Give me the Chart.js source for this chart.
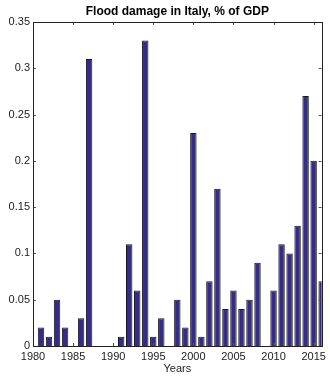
<!DOCTYPE html>
<html>
<head>
<meta charset="utf-8">
<script src="https://cdn.jsdelivr.net/npm/chart.js@4/dist/chart.umd.min.js"></script>
<style>
html,body{margin:0;padding:0;background:#fff;}
#wrap{width:330px;height:376px;}
</style>
</head>
<body>
<div id="wrap"><canvas id="c" width="330" height="376"></canvas></div>
<script>
const years = [1981,1982,1983,1984,1985,1986,1987,1988,1989,1990,1991,1992,1993,1994,1995,1996,1997,1998,1999,2000,2001,2002,2003,2004,2005,2006,2007,2008,2009,2010,2011,2012,2013,2014,2015,2016];
const damage = [0.02,0.01,0.05,0.02,0,0.03,0.31,0,0,0,0.01,0.11,0.06,0.33,0.01,0.03,0,0.05,0.02,0.23,0.01,0.07,0.17,0.04,0.06,0.04,0.05,0.09,0,0.06,0.11,0.10,0.13,0.27,0.20,0.07];
const xTicks = [1980,1985,1990,1995,2000,2005,2010,2015];
const yTicks = [0,0.05,0.1,0.15,0.2,0.25,0.3,0.35];
const yTickLabels = ['0','0.05','0.1','0.15','0.2','0.25','0.3','0.35'];
const titleText = 'Flood damage in Italy, % of GDP';

const FONT = 'Liberation Sans, Arial, Helvetica, sans-serif';

const boxPlugin = {
  id: 'box',
  afterDatasetsDraw(chart) {
    const ctx = chart.ctx, a = chart.chartArea;
    const xs = chart.scales.x, ys = chart.scales.y;
    ctx.save();
    ctx.strokeStyle = '#555';
    ctx.lineWidth = 1;
    const L = 3;
    ctx.beginPath();
    xTicks.forEach(v => {
      const px = Math.round(xs.getPixelForValue(v)) + 0.5;
      ctx.moveTo(px, a.bottom); ctx.lineTo(px, a.bottom - L);
      ctx.moveTo(px, a.top); ctx.lineTo(px, a.top + L);
    });
    yTicks.forEach(v => {
      const py = Math.round(ys.getPixelForValue(v)) + 0.5;
      ctx.moveTo(a.left, py); ctx.lineTo(a.left + L, py);
      ctx.moveTo(a.right, py); ctx.lineTo(a.right - L, py);
    });
    ctx.stroke();
    ctx.strokeStyle = '#222';
    ctx.strokeRect(Math.round(a.left) + 0.5, Math.round(a.top) + 0.5, Math.round(a.right - a.left), Math.round(a.bottom - a.top));
    // title centred over the axes, as MATLAB does
    ctx.fillStyle = '#000';
    ctx.font = 'bold 12px ' + FONT;
    ctx.textAlign = 'center';
    ctx.textBaseline = 'middle';
    ctx.fillText(titleText, (a.left + a.right) / 2, 12);
    ctx.restore();
  }
};

new Chart(document.getElementById('c'), {
  type: 'bar',
  data: {
    datasets: [{
      data: years.map((y, i) => ({x: y, y: damage[i]})),
      backgroundColor: '#352b88',
      borderColor: '#1a1a1a',
      borderWidth: 1,
      barPercentage: 0.8,
      categoryPercentage: 1.0
    }]
  },
  options: {
    responsive: false,
    animation: false,
    devicePixelRatio: 1,
    layout: { padding: { left: 0, right: 5, top: 22, bottom: 0 } },
    plugins: {
      legend: { display: false },
      tooltip: { enabled: false },
      title: { display: false }
    },
    scales: {
      x: {
        type: 'linear',
        min: 1980,
        max: 2016,
        offset: false,
        grid: { display: false, drawTicks: false },
        border: { display: false },
        afterBuildTicks(s) { s.ticks = xTicks.map(v => ({value: v})); },
        ticks: {
          autoSkip: false,
          maxRotation: 0,
          padding: 4,
          color: '#222',
          font: { family: FONT, size: 11 },
          callback: v => String(v)
        },
        title: {
          display: true,
          text: 'Years',
          color: '#222',
          font: { family: FONT, size: 11 },
          padding: { top: 0, bottom: 0 }
        },
        afterFit(s) { s.height = 30; }
      },
      y: {
        min: 0,
        max: 0.35,
        grid: { display: false, drawTicks: false },
        border: { display: false },
        afterBuildTicks(s) { s.ticks = yTicks.map(v => ({value: v})); },
        ticks: {
          padding: 3,
          color: '#222',
          font: { family: FONT, size: 11 },
          callback: (v, i) => yTickLabels[i]
        },
        afterFit(s) { s.width = 33; }
      }
    }
  },
  plugins: [boxPlugin]
});
</script>
</body>
</html>
